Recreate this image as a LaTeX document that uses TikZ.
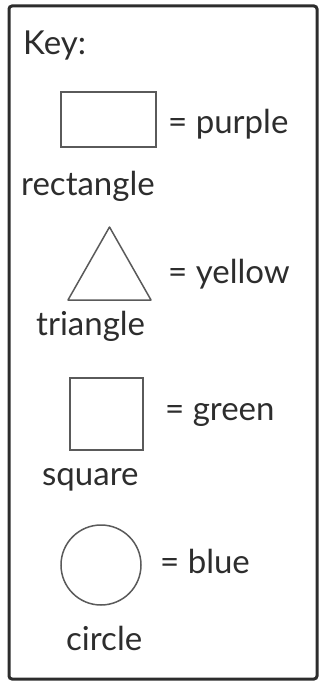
\documentclass[tikz,border=0pt]{standalone}
\usepackage{fontspec}
\setmainfont{Lato}
\usepackage{tikz}
\usetikzlibrary{positioning}
\definecolor{keyInk}{RGB}{45,45,45}
\definecolor{shapeGray}{RGB}{90,90,90}
\tikzset{
  key frame/.style={draw=keyInk,line width=3pt,rounded corners=3pt},
  key shape/.style={draw=shapeGray,line width=1.5pt,fill=white,inner sep=0pt},
  key text/.style={text=keyInk,font=\fontsize{33}{37}\selectfont,inner sep=0pt,anchor=base west}
}

\begin{document}
\begin{tikzpicture}[x=1pt,y=-1pt]
        \useasboundingbox (0,0) rectangle (322,685);
        \draw[key frame] (9,6) rectangle (317,679);
        \node[key text] (key) at (23,55) {Key:};
        % rectangle
        \node[key shape,rectangle,minimum width=95pt,minimum height=55pt] (rect) at (108.5,119.5) {};
        \node[key text] (purple) at (168,133) {= purple};
        \node[key text] (rectname) at (21,195) {rectangle};
        % triangle
        \coordinate (tritop) at (109.5,227);
        \coordinate (triright) at (151,300);
        \coordinate (trileft) at (68,300);
        \draw[key shape,line join=round] (tritop) -- (triright) -- (trileft) -- cycle;
        \node[key text] (yellow) at (168,283) {= yellow};
        \node[key text] (triname) at (36,335) {triangle};
        % square
        \node[key shape,rectangle,minimum width=73pt,minimum height=72pt] (square) at (106.5,414) {};
        \node[key text] (green) at (165,420) {= green};
        \node[key text] (squarename) at (42,485) {square};
        % circle
        \node[key shape,circle,minimum size=80pt] (circ) at (101,565) {};
        \node[key text] (blue) at (160,573) {= blue};
        \node[key text] (circname) at (66,650) {circle};
      \end{tikzpicture}
\end{document}
